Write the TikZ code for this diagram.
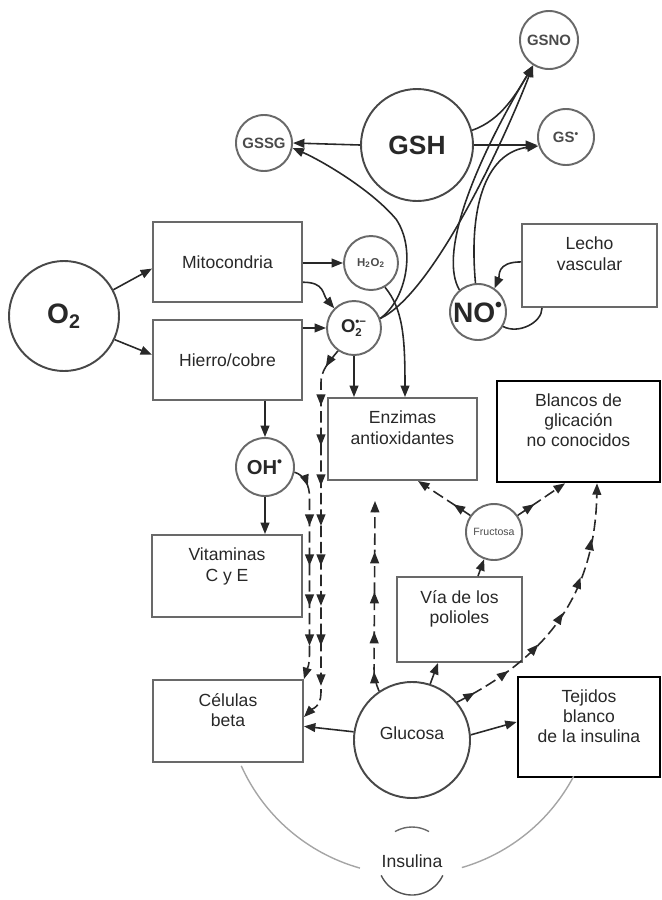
\documentclass[tikz,border=0pt]{standalone}
\usepackage{fontspec}
\setmainfont{Liberation Sans}
\usetikzlibrary{arrows.meta}
\usetikzlibrary{calc, decorations.markings}
\definecolor{trazo}{RGB}{40,40,40}
\definecolor{borde}{RGB}{105,105,105}
\definecolor{arco}{RGB}{165,165,165}
\definecolor{letra}{RGB}{75,75,75}

\tikzset{
  caja/.style={draw=borde, line width=1.1pt, rectangle, inner sep=0pt, align=center,
    font=\fontsize{10}{11.5}\selectfont},
  cajaosc/.style={caja, draw=black, line width=1.5pt},
  rotulo/.style={label={[anchor=north, align=center, yshift=-4.5pt, text=trazo,
    font=\fontsize{10}{11.5}\selectfont]north:#1}},
  bola/.style={circle, draw=borde, line width=1.1pt, inner sep=0pt},
  bolaosc/.style={bola, draw=trazo!85},
  punta/.style={-{Triangle[length=6.5pt,width=5pt]}},
  flecha/.style={trazo, line width=0.9pt, punta},
  flujo/.style={flecha, dash pattern=on 6.5pt off 2.8pt,
    decoration={markings, mark=between positions 4mm and -6mm step 8mm
      with {\arrow{Triangle[length=6.5pt,width=5pt]}}},
    postaction={decorate}}
}
\newcommand{\chico}[1]{\hbox{\fontsize{6.5}{7}\selectfont #1}}

\begin{document}
\begin{tikzpicture}[x=0.2mm, y=-0.2mm, trazo]
\useasboundingbox (0,0) rectangle (662,900);

% especies
\node[bolaosc, minimum size=22mm, font=\fontsize{16}{18}\selectfont\bfseries] (o2) at (64,316) {O\textsubscript{2}};
\node[bolaosc, minimum size=22.4mm, font=\fontsize{15}{17}\selectfont\bfseries] (gsh) at (417,145) {GSH};
\node[bola, minimum size=11.2mm, font=\fontsize{8.5}{10}\selectfont\bfseries, text=letra] (gssg) at (264,143) {GSSG};
\node[bola, minimum size=11.6mm, font=\fontsize{8.5}{10}\selectfont\bfseries, text=letra] (gsno) at (549,40) {GSNO};
\node[bola, minimum size=11.2mm, font=\fontsize{8.5}{10}\selectfont\bfseries, text=letra] (gs) at (566,137) {GS\textsuperscript{•}};
\node[bola, minimum size=10.8mm, font=\fontsize{6.5}{8}\selectfont\bfseries, text=letra] (h2o2) at (371,263) {H\textsubscript{2}O\textsubscript{2}};
\node[bola, minimum size=10.8mm, font=\fontsize{10.5}{12}\selectfont\bfseries] (sup) at (354,328) {O$^{\chico{•−}}_{\chico{2}}$};
\node[bola, minimum size=11.2mm, font=\fontsize{16}{18}\selectfont\bfseries] (no) at (478,312) {NO\textsuperscript{•}};
\node[bola, minimum size=11.6mm, font=\fontsize{11.5}{13}\selectfont\bfseries] (oh) at (265,467) {OH\textsuperscript{•}};
\node[bola, minimum size=11.2mm, font=\fontsize{6}{7}\selectfont, text=letra] (fru) at (494,532) {Fructosa};
\node[bolaosc, minimum size=23.2mm, font=\fontsize{10}{12}\selectfont] (glu) at (412,740) {\raisebox{8pt}{Glucosa}};
\node[circle, minimum size=13.6mm, inner sep=0pt, font=\fontsize{10}{12}\selectfont] (ins) at (412,861) {Insulina};

% cajas
\node[caja, minimum width=29.8mm, minimum height=16mm] (mito) at (227.5,262) {Mitocondria};
\node[caja, minimum width=29.8mm, minimum height=16mm] (hierro) at (227.5,360) {Hierro/cobre};
\node[caja, minimum width=27mm, minimum height=16.6mm, rotulo={Lecho\\vascular}] (lecho) at (589.5,265.5) {};
\node[caja, minimum width=29.8mm, minimum height=16.4mm, rotulo={Enzimas\\antioxidantes}] (enz) at (402.5,439) {};
\node[cajaosc, minimum width=32.6mm, minimum height=20.2mm, rotulo={Blancos de\\glicación\\no conocidos}] (blancos) at (578.5,431.5) {};
\node[caja, minimum width=30mm, minimum height=16.4mm, rotulo={Vitaminas\\C y E}] (vit) at (227,576) {};
\node[caja, minimum width=25mm, minimum height=17mm, rotulo={Vía de los\\polioles}] (poli) at (459.5,619.5) {};
\node[caja, minimum width=30mm, minimum height=16.4mm, rotulo={Células\\beta}] (cel) at (228,721) {};
\node[cajaosc, minimum width=28.4mm, minimum height=20mm, rotulo={Tejidos\\blanco\\de la insulina}] (tej) at (589,727) {};

% insulina
\draw[arco, line width=0.8pt] (410,690) ++(155.8:185) arc[start angle=155.8, end angle=105.7, radius=185];
\draw[arco, line width=0.8pt] (410,690) ++(73.7:185) arc[start angle=73.7, end angle=27.8, radius=185];
\draw[borde, line width=0.8pt] (ins.center) ++(-120:34) arc[start angle=-120, end angle=-60, radius=34];
\draw[trazo!80, line width=0.8pt] (ins.center) ++(25:34) arc[start angle=25, end angle=155, radius=34];

% oxigeno
\draw[flecha] (o2.28) -- (mito.185);
\draw[flecha] (o2.-25) -- (hierro.176);
\draw[flecha] (h2o2.west -| mito.east) -- (h2o2.west);
\draw[flecha] (mito.-15) .. controls +(22,0) and +(-12,-14) .. (sup.135);
\draw[flecha] (hierro.23) -- (sup.west);
\draw[flecha] (oh.north |- hierro.south) -- (oh.north);
\draw[flecha] (oh.south) -- (oh.south |- vit.north);
\draw[flecha] (sup.south) -- (sup.south |- enz.north);
\draw[flecha] (h2o2.-60) .. controls +(18,22) and +(0,-60) .. ([xshift=0.5mm]enz.north);

% glutation
\draw[flecha] (gsh.west) -- (gssg.east);
\draw[flecha] (gsh.15) .. controls +(30,-10) and +(-15,25) .. (gsno.-122);
\draw[flecha] (gsh.east) -- (gsh.east -| gs.west);
\draw[flecha] (sup.20) .. controls +(26,-19) and +(20,30) .. ++(16,-99) .. controls +(-25,-30) and +(28,12) .. (gssg.-10);
\draw[flecha] (sup.20) .. controls +(51,-24) and +(-33,85) .. (gsno.-122);
\draw[flecha] (no.130) .. controls +(-20,-34) and +(-63,105) .. (gsno.-122);
\draw[flecha] (no.95) .. controls +(-7.6,-84) and +(-49,6) .. (gs.-162);
\draw[flecha] (lecho.177) .. controls +(-25,0) and +(5,-12) .. (no.55);
\draw[trazo, line width=0.9pt] (no.-30) .. controls +(15,8) and +(0,15) .. ([xshift=-9.5mm]lecho.south);

% rutas punteadas
\draw[flujo] (sup.-125) .. controls +(-10,12) and +(0,-12) .. ++(-17,32) -- ++(0,310) .. controls +(0,14) and +(8,-8) .. (cel.3);
\draw[flujo] (oh.-10) .. controls +(10,3) and +(0,-12) .. ++(15,25) -- ++(0,155) .. controls +(0,15) and +(3,-10) .. (cel.north east);
\draw[flujo] (glu.124) .. controls +(-3,-8) and +(0,10) .. ++(-5,-22) -- ([xshift=-5.5mm, yshift=-4mm]enz.south);
\draw[flujo] (fru.145) -- ([xshift=3.1mm]enz.south);
\draw[flujo] (fru.35) -- ([xshift=-2.7mm]blancos.south);
\draw[flujo] (glu.40) .. controls +(85,-43) and +(-2,116) .. ([xshift=3.7mm]blancos.south);

% glucosa
\draw[flecha] (glu.72) -- ([xshift=-4.3mm]poli.south);
\draw[flecha] ([xshift=3.7mm]poli.north) -- (fru.-110);
\draw[flecha] (glu.172) -- (cel.-4);
\draw[flecha] (glu.5) -- (tej.176);

\end{tikzpicture}
\end{document}
